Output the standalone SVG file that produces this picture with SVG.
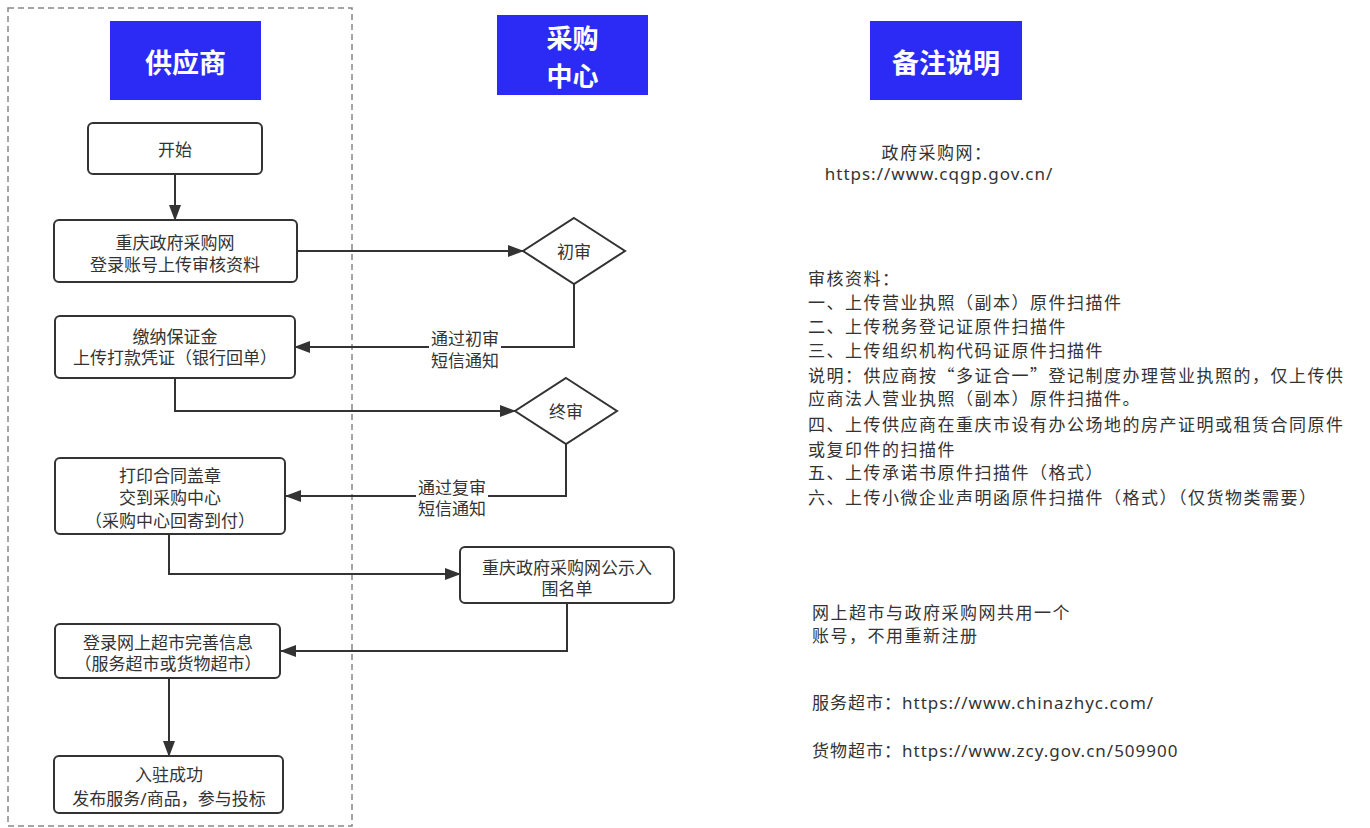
<svg xmlns="http://www.w3.org/2000/svg" width="1370" height="828" viewBox="0 0 1370 828">
<style>
text{font-family:"Noto Sans","Noto Sans CJK SC",sans-serif;fill:#333;font-size:17px;dominant-baseline:central}
.t{text-anchor:middle}
.hd rect{fill:#2B2BF5}
.hd text{fill:#fff;font-weight:700;font-size:27px;text-anchor:middle;font-family:"Noto Sans CJK SC",sans-serif}
.hd text.sm{font-size:26px}
.box{fill:#fff;stroke:#333;stroke-width:2}
.dia{fill:#fff;stroke:#333;stroke-width:2}
.ln{fill:none;stroke:#333;stroke-width:2}
.note text{font-size:17px;letter-spacing:1.5px}
.note text.cj{font-family:"Noto Sans CJK SC",sans-serif}
.note text.url{letter-spacing:1px}
</style>
<defs>
<marker id="ah" markerUnits="userSpaceOnUse" markerWidth="16" markerHeight="12" refX="15" refY="6" orient="auto">
<path d="M0,0 L16,6 L0,12 Z" fill="#333"/>
</marker>
</defs>
<rect x="8" y="8" width="344" height="818" fill="none" stroke="#888" stroke-width="1.5" stroke-dasharray="6 4"/>
<g id="hdr-supplier" class="hd"><rect x="110" y="21" width="151" height="79"/><text x="185.5" y="61">供应商</text></g>
<g id="hdr-center" class="hd"><rect x="497" y="15" width="151" height="80"/><text class="sm" x="572.5" y="36">采购</text><text class="sm" x="572.5" y="74">中心</text></g>
<g id="hdr-notes" class="hd"><rect x="870" y="21" width="152" height="79"/><text x="946" y="61">备注说明</text></g>
<g id="connectors">
<path class="ln" d="M175,174 V220" marker-end="url(#ah)"/>
<path class="ln" d="M297,251 H523" marker-end="url(#ah)"/>
<path class="ln" d="M574,284 V347 H295" marker-end="url(#ah)"/>
<path class="ln" d="M175,378 V411 H515" marker-end="url(#ah)"/>
<path class="ln" d="M566,444 V496 H286" marker-end="url(#ah)"/>
<path class="ln" d="M169,534 V574 H460" marker-end="url(#ah)"/>
<path class="ln" d="M567,603 V651 H281" marker-end="url(#ah)"/>
<path class="ln" d="M169,678 V756" marker-end="url(#ah)"/>
<g id="lbl1"><rect x="429" y="328" width="72" height="42" fill="#fff"/><text class="t" x="465" y="338">通过初审</text><text class="t" x="465" y="360">短信通知</text></g>
<g id="lbl2"><rect x="416" y="477" width="72" height="42" fill="#fff"/><text class="t" x="452" y="487">通过复审</text><text class="t" x="452" y="508">短信通知</text></g>
</g>
<g id="n-start"><rect class="box" x="88" y="123" width="174" height="51" rx="5"/><text class="t" x="175" y="149">开始</text></g>
<g id="n-upload"><rect class="box" x="54" y="220" width="243" height="62" rx="5"/><text class="t" x="175" y="242">重庆政府采购网</text><text class="t" x="175" y="264">登录账号上传审核资料</text></g>
<g id="n-deposit"><rect class="box" x="55" y="316" width="240" height="62" rx="5"/><text class="t" x="175" y="336">缴纳保证金</text><text class="t" x="175" y="357">上传打款凭证（银行回单）</text></g>
<g id="n-print"><rect class="box" x="55" y="458" width="230" height="76" rx="5"/><text class="t" x="170" y="475">打印合同盖章</text><text class="t" x="170" y="497">交到采购中心</text><text class="t" x="170" y="520">（采购中心回寄到付）</text></g>
<g id="n-market"><rect class="box" x="55" y="624" width="225" height="54" rx="5"/><text class="t" x="168" y="642">登录网上超市完善信息</text><text class="t" x="168" y="663">（服务超市或货物超市）</text></g>
<g id="n-done"><rect class="box" x="54" y="756" width="229" height="57" rx="5"/><text class="t" x="169" y="774">入驻成功</text><text class="t" x="169" y="798">发布服务/商品，参与投标</text></g>
<g id="n-first"><path class="dia" d="M574,218 L625,251 L574,284 L523,251 Z"/><text class="t" x="574" y="251">初审</text></g>
<g id="n-final"><path class="dia" d="M566,378 L617,411 L566,444 L515,411 Z"/><text class="t" x="566" y="411">终审</text></g>
<g id="n-publish"><rect class="box" x="460" y="547" width="214" height="56" rx="5"/><text class="t" x="567" y="567">重庆政府采购网公示入</text><text class="t" x="567" y="588">围名单</text></g>
<g id="notes" class="note">
<text class="t" x="937" y="152">政府采购网：</text>
<text class="t url" x="939" y="173">https://www.cqgp.gov.cn/</text>
<text class="cj" x="808" y="277">审核资料：</text>
<text class="cj" x="808" y="301">一、上传营业执照（副本）原件扫描件</text>
<text class="cj" x="808" y="325">二、上传税务登记证原件扫描件</text>
<text class="cj" x="808" y="349">三、上传组织机构代码证原件扫描件</text>
<text class="cj" x="808" y="374">说明：供应商按“多证合一”登记制度办理营业执照的，仅上传供</text>
<text class="cj" x="808" y="397">应商法人营业执照（副本）原件扫描件。</text>
<text class="cj" x="808" y="423">四、上传供应商在重庆市设有办公场地的房产证明或租赁合同原件</text>
<text class="cj" x="808" y="448">或复印件的扫描件</text>
<text class="cj" x="808" y="471">五、上传承诺书原件扫描件（格式）</text>
<text class="cj" x="808" y="496">六、上传小微企业声明函原件扫描件（格式）（仅货物类需要）</text>
<text class="cj" x="812" y="611">网上超市与政府采购网共用一个</text>
<text class="cj" x="812" y="634">账号，不用重新注册</text>
<text class="url" x="812" y="702">服务超市：https://www.chinazhyc.com/</text>
<text class="url" x="812" y="750">货物超市：https://www.zcy.gov.cn/509900</text>
</g>
</svg>
